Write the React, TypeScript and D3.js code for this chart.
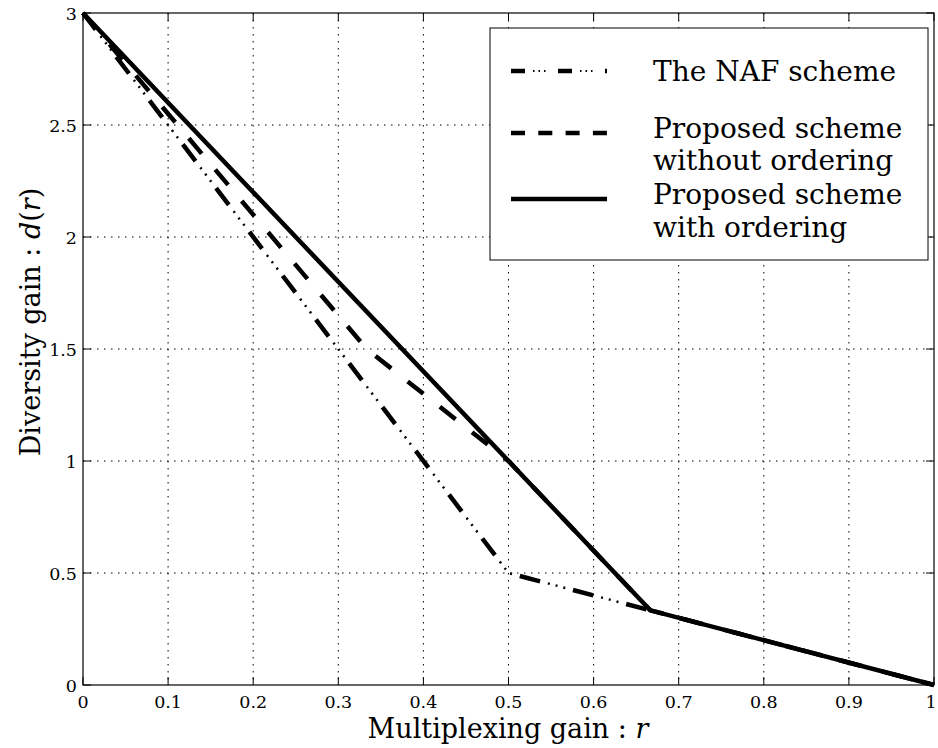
import React from "react";
import * as d3 from "d3";

const nafX = [0, 0.5, 2 / 3, 1];
const nafY = [3, 0.5, 1 / 3, 0];
const noOrderX = [0, 1 / 3, 0.5, 2 / 3, 1];
const noOrderY = [3, 1.5, 1, 1 / 3, 0];
const orderX = [0, 0.5, 2 / 3, 1];
const orderY = [3, 1, 1 / 3, 0];

const xTicks = [0, 0.1, 0.2, 0.3, 0.4, 0.5, 0.6, 0.7, 0.8, 0.9, 1];
const yTicks = [0, 0.5, 1, 1.5, 2, 2.5, 3];
const xTickLabels = ["0", "0.1", "0.2", "0.3", "0.4", "0.5", "0.6", "0.7", "0.8", "0.9", "1"];
const yTickLabels = ["0", "0.5", "1", "1.5", "2", "2.5", "3"];

const legendLabels = [["The NAF scheme"], ["Proposed scheme", "without ordering"], ["Proposed scheme", "with ordering"]];

const W = 938;
const H = 748;
const L = 83, R = 934, T = 13, B = 685;
const FONT = "'DejaVu Serif', serif";

export default function App() {
  const x = d3.scaleLinear().domain([0, 1]).range([L, R]);
  const y = d3.scaleLinear().domain([0, 3]).range([B, T]);
  const line = d3.line<[number, number]>().x((d) => x(d[0])).y((d) => y(d[1]));
  const pts = (xs: number[], ys: number[]) => xs.map((v, i) => [v, ys[i]] as [number, number]);
  const nafPath = line(pts(nafX, nafY)) || "";
  const noPath = line(pts(noOrderX, noOrderY)) || "";
  const orPath = line(pts(orderX, orderY)) || "";

  const tickLen = 8;
  const lgX0 = 511, lgX1 = 607, txtX = 653;
  const rowY = [71, 133, 199];

  return (
    <svg width={W} height={H} style={{ position: "absolute", left: 0, top: 0, background: "#fff" }}>
      <rect x={0} y={0} width={W} height={H} fill="#fff" />
      {/* grid */}
      {xTicks.slice(1, -1).map((t) => (
        <line key={"gx" + t} x1={x(t)} x2={x(t)} y1={T} y2={B} stroke="#000" strokeWidth={1} strokeDasharray="1.5,5.5" />
      ))}
      {yTicks.slice(1, -1).map((t) => (
        <line key={"gy" + t} x1={L} x2={R} y1={y(t)} y2={y(t)} stroke="#000" strokeWidth={1} strokeDasharray="1.5,5.5" />
      ))}
      {/* ticks */}
      {xTicks.map((t) => (
        <g key={"tx" + t}>
          <line x1={x(t)} x2={x(t)} y1={B} y2={B - tickLen} stroke="#000" strokeWidth={1} />
          <line x1={x(t)} x2={x(t)} y1={T} y2={T + tickLen} stroke="#000" strokeWidth={1} />
        </g>
      ))}
      {yTicks.map((t) => (
        <g key={"ty" + t}>
          <line x1={L} x2={L + tickLen} y1={y(t)} y2={y(t)} stroke="#000" strokeWidth={1} />
          <line x1={R} x2={R - tickLen} y1={y(t)} y2={y(t)} stroke="#000" strokeWidth={1} />
        </g>
      ))}
      {/* data lines */}
      <path d={nafPath} fill="none" stroke="#000" strokeWidth={4.5} strokeDasharray="21,34" />
      <path d={nafPath} fill="none" stroke="#000" strokeWidth={2.5} strokeDasharray="0,29,2,6,2,6,2,8" />
      <path d={noPath} fill="none" stroke="#000" strokeWidth={4.5} strokeDasharray="20,21" />
      <path d={orPath} fill="none" stroke="#000" strokeWidth={4.5} strokeLinejoin="miter" />
      {/* frame */}
      <rect x={L} y={T} width={R - L} height={B - T} fill="none" stroke="#000" strokeWidth={1.2} />
      {/* tick labels */}
      {xTicks.map((t, i) => (
        <text key={"lx" + t} x={i === xTicks.length - 1 ? x(t) - 3 : x(t)} y={708} textAnchor="middle" fontFamily={FONT} fontSize={17.5} fill="#000">
          {xTickLabels[i]}
        </text>
      ))}
      {yTicks.map((t, i) => (
        <text key={"ly" + t} x={77} y={y(t) + 6.5} textAnchor="end" fontFamily={FONT} fontSize={17.5} fill="#000">
          {yTickLabels[i]}
        </text>
      ))}
      {/* axis titles */}
      <text x={508} y={738} textAnchor="middle" fontFamily={FONT} fontSize={27} fill="#000">
        Multiplexing gain : <tspan fontStyle="italic">r</tspan>
      </text>
      <text transform="translate(40,322) rotate(-90)" textAnchor="middle" fontFamily={FONT} fontSize={27} fill="#000">
        Diversity gain : <tspan fontStyle="italic">d</tspan>(<tspan fontStyle="italic">r</tspan>)
      </text>
      {/* legend */}
      <rect x={490} y={28} width={438} height={232} fill="#fff" stroke="#000" strokeWidth={1} />
      <line x1={lgX0} x2={lgX1} y1={rowY[0]} y2={rowY[0]} stroke="#000" strokeWidth={4.5} strokeDasharray="14,33" />
      <line x1={lgX0} x2={lgX1} y1={rowY[0]} y2={rowY[0]} stroke="#000" strokeWidth={2} strokeDasharray="0,22,1.5,4,1.5,4,1.5,12.5" />
      <line x1={lgX0} x2={lgX1} y1={rowY[1]} y2={rowY[1]} stroke="#000" strokeWidth={4.5} strokeDasharray="14,13.3" />
      <line x1={lgX0} x2={lgX1} y1={rowY[2]} y2={rowY[2]} stroke="#000" strokeWidth={4.5} />
      <text x={txtX} y={81} fontFamily={FONT} fontSize={28} fill="#000">{legendLabels[0][0]}</text>
      <text x={txtX} y={138} fontFamily={FONT} fontSize={28} fill="#000">{legendLabels[1][0]}</text>
      <text x={txtX} y={170} fontFamily={FONT} fontSize={28} fill="#000">{legendLabels[1][1]}</text>
      <text x={txtX} y={204} fontFamily={FONT} fontSize={28} fill="#000">{legendLabels[2][0]}</text>
      <text x={txtX} y={237} fontFamily={FONT} fontSize={28} fill="#000">{legendLabels[2][1]}</text>
    </svg>
  );
}
